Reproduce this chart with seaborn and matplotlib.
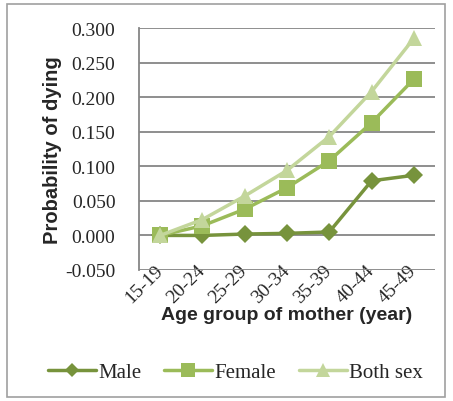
import numpy as np
import pandas as pd
import matplotlib.pyplot as plt
import seaborn as sns
from matplotlib.patches import Rectangle

age_groups = ["15-19", "20-24", "25-29", "30-34", "35-39", "40-44", "45-49"]
male = [0.000, 0.000, 0.002, 0.003, 0.005, 0.079, 0.087]
female = [0.000, 0.014, 0.038, 0.069, 0.108, 0.163, 0.226]
both_sex = [0.000, 0.023, 0.057, 0.094, 0.143, 0.208, 0.285]
series_names = ["Male", "Female", "Both sex"]
colors = ["#77933C", "#9BBB59", "#C3D69B"]

df = pd.DataFrame({
    "age": age_groups * 3,
    "prob": male + female + both_sex,
    "sex": np.repeat(series_names, len(age_groups)),
})

sns.set_style("white")
serif = ["Liberation Serif", "DejaVu Serif"]
sans = ["Liberation Sans", "DejaVu Sans"]

fig = plt.figure(figsize=(4.53, 4.02), dpi=100)
ax = fig.add_axes([139 / 453, 1 - 271 / 402, 296 / 453, 242 / 402])

sns.lineplot(data=df, x="age", y="prob", hue="sex", style="sex",
             palette=colors, markers=["D", "s", "^"], dashes=False,
             markersize=11, linewidth=2.5, markeredgewidth=0, ax=ax,
             sort=False)

# marker sizes differ per shape in the original
plot_sizes = {"D": 9.5, "s": 11.5, "^": 12}
for line in ax.lines:
    m = line.get_marker()
    if m in plot_sizes:
        line.set_markersize(plot_sizes[m])

yticks = np.arange(-0.05, 0.301, 0.05)
ax.set_xlim(-0.5, 6.5)
ax.set_ylim(-0.05, 0.30)
ax.set_yticks(yticks)
ax.set_yticklabels([f"{v:.3f}" for v in yticks], family=serif, fontsize=14)
ax.set_xticks(range(len(age_groups)))
ax.set_xticklabels(age_groups, family=serif, fontsize=14, rotation=45,
                   ha="right", va="center", rotation_mode="anchor")
ax.tick_params(axis="y", length=6, color="#868686", width=1.2, pad=11)
ax.tick_params(axis="x", length=0, pad=-2)

ax.grid(axis="y", color="#868686", linewidth=1.3)
ax.set_axisbelow(True)
for side in ["top", "right", "bottom"]:
    ax.spines[side].set_visible(False)
ax.spines["left"].set_color("#868686")
ax.spines["left"].set_linewidth(1.3)

ax.set_xlabel("Age group of mother (year)", family=sans, fontweight="bold",
              fontsize=14)
ax.set_ylabel("Probability of dying", family=sans, fontweight="bold",
              fontsize=14.5)
ax.xaxis.set_label_coords(0.5, -0.15)
ax.yaxis.set_label_coords(-0.26, 0.5)

handles, labels = ax.get_legend_handles_labels()
ax.get_legend().remove()
legend_sizes = {"D": 7.5, "s": 9.5, "^": 9.5}
for h in handles:
    h.set_markersize(legend_sizes.get(h.get_marker(), 8))
fig.legend(handles, labels, loc="center", bbox_to_anchor=(0.52, 1 - 373 / 402),
           ncol=3, frameon=False, prop={"family": serif, "size": 15},
           handlelength=2.3, handletextpad=0.1, columnspacing=1.1)

fig.patches.append(Rectangle((7 / 453, 1 - 398 / 402), 438 / 453, 393 / 402,
                             transform=fig.transFigure, fill=False,
                             edgecolor="#A0A0A0", linewidth=1.2))

fig.savefig("out.png", dpi=100)
